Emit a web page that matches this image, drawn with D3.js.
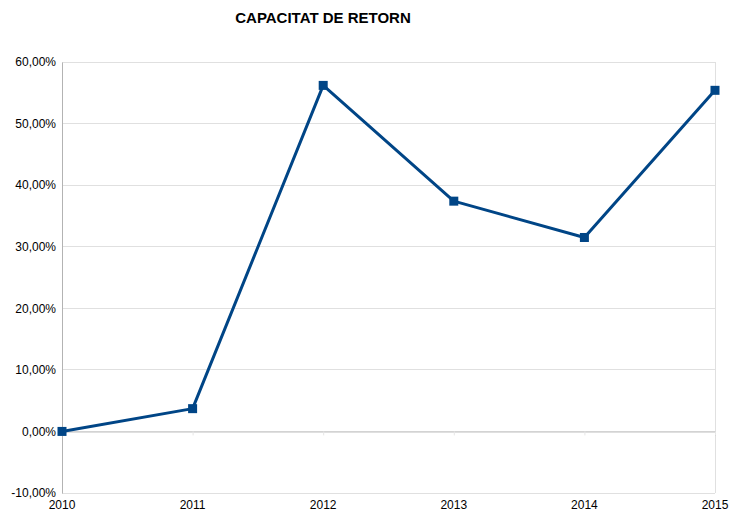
<!DOCTYPE html>
<html>
<head>
<meta charset="utf-8">
<script src="https://cdn.jsdelivr.net/npm/d3@7"></script>
<style>
  body { margin: 0; background: #fff; }
  text { font-family: "Liberation Sans", Arial, sans-serif; }
</style>
</head>
<body>
<div id="chart"></div>
<script>
// chart data
const years = ["2010", "2011", "2012", "2013", "2014", "2015"];
const retorn = [0.0, 3.7, 56.2, 37.4, 31.5, 55.4];
const yTicks = [-10, 0, 10, 20, 30, 40, 50, 60];
const titleText = "CAPACITAT DE RETORN";

const W = 731, H = 512;
const margin = { top: 62, left: 62, right: 16, bottom: 19 };
const width = W - margin.left - margin.right,
      height = H - margin.top - margin.bottom;

const svg = d3.select("#chart").append("svg")
    .attr("width", W)
    .attr("height", H);

svg.append("text")
    .attr("x", 323)
    .attr("y", 23)
    .attr("text-anchor", "middle")
    .style("font-size", "15px")
    .style("font-weight", "bold")
    .text(titleText);

const g = svg.append("g")
    .attr("transform", "translate(" + margin.left + "," + margin.top + ")");

const xScale = d3.scalePoint().domain(years).range([0, width]);
const yScale = d3.scaleLinear().domain([-10, 60]).range([height, 0]);

// horizontal gridlines
g.selectAll(".grid")
  .data(yTicks.filter(d => d !== 0))
  .enter().append("line")
    .attr("x1", 0).attr("x2", width)
    .attr("y1", d => yScale(d)).attr("y2", d => yScale(d))
    .attr("stroke", "#e0e0e0")
    .attr("stroke-width", 1)
    .attr("shape-rendering", "crispEdges");

// right border
g.append("line")
    .attr("x1", width).attr("x2", width)
    .attr("y1", 0).attr("y2", height)
    .attr("stroke", "#e0e0e0")
    .attr("shape-rendering", "crispEdges");

// y axis
const yAxis = g.append("g")
    .call(d3.axisLeft(yScale)
      .tickValues(yTicks)
      .tickSize(0)
      .tickFormat(d => d3.format(".2f")(d).replace(".", ",").replace("\u2212", "-") + "%"));
yAxis.select(".domain").attr("stroke", "#b3b3b3");
yAxis.selectAll("text")
    .style("font-size", "12px")
    .attr("fill", "#000")
    .attr("x", -6)
    .attr("dy", "0.32em");

// zero line with small tick marks
const xAxis = g.append("g")
    .attr("transform", "translate(0," + yScale(0) + ")")
    .call(d3.axisBottom(xScale).tickSize(4).tickFormat(""));
xAxis.select(".domain").attr("stroke", "#b3b3b3");
xAxis.selectAll(".tick line").attr("stroke", "#e6e6e6");

// year labels at the bottom
g.selectAll(".year")
  .data(years)
  .enter().append("text")
    .attr("x", d => xScale(d))
    .attr("y", height + 16)
    .attr("text-anchor", "middle")
    .style("font-size", "12px")
    .text(d => d);

// line
const line = d3.line()
    .x((d, i) => xScale(years[i]))
    .y(d => yScale(d));

g.append("path")
    .datum(retorn)
    .attr("d", line)
    .attr("fill", "none")
    .attr("stroke", "#004586")
    .attr("stroke-width", 3)
    .attr("stroke-linejoin", "round");

// square markers
g.selectAll(".pt")
  .data(retorn)
  .enter().append("rect")
    .attr("x", (d, i) => xScale(years[i]) - 4.5)
    .attr("y", d => yScale(d) - 4.5)
    .attr("width", 9)
    .attr("height", 9)
    .attr("fill", "#004586");
</script>
</body>
</html>
